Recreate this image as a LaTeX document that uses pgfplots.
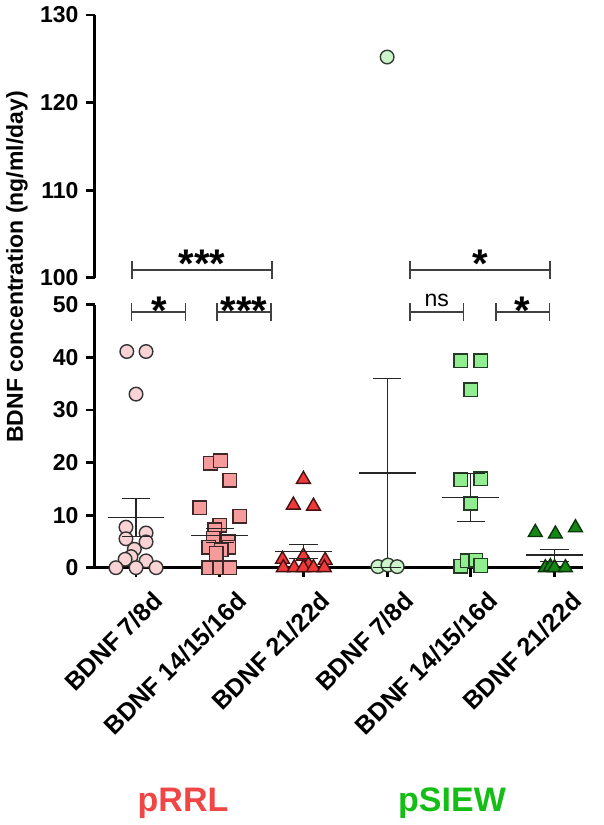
\documentclass[border=0pt]{standalone}
\usepackage{fontspec}
\setmainfont{Liberation Sans}
\usepackage{pgfplots}
\pgfplotsset{compat=1.18}

\definecolor{pinkA}{RGB}{250,212,212}
\definecolor{pinkB}{RGB}{245,155,155}
\definecolor{redC}{RGB}{238,58,58}
\definecolor{greenA}{RGB}{204,245,204}
\definecolor{greenB}{RGB}{144,238,144}
\definecolor{greenC}{RGB}{20,135,20}
\definecolor{labred}{RGB}{240,70,70}
\definecolor{labgreen}{RGB}{20,190,20}

\pgfplotsset{
  brk/.style={
    scale only axis, width=244.25pt,
    xmin=-0.496, xmax=5.34, clip=false,
    axis line style={line width=1.4pt},
    tick style={line width=1.4pt, black},
    tick align=outside, major tick length=4.5pt,
    yticklabel style={font=\fontsize{11.5}{12}\selectfont\bfseries},
    /pgf/number format/assume math mode=true,
  },
  pts/.style={only marks, mark size=3.4pt, line width=0.7pt},
}
\tikzset{sigline/.style={line width=0.6pt, black!75},
  ebar/.style={line width=0.6pt, black!85},
  star/.style={anchor=base, font=\fontsize{20}{20}\selectfont\bfseries}}

\newcommand{\sigbar}[3]{%
  \draw[sigline] (axis cs:#1,#3) -- (axis cs:#2,#3);
  \draw[sigline] (axis cs:#1,#3) ++(0pt,-4.5pt) -- ++(0pt,9pt);
  \draw[sigline] (axis cs:#2,#3) ++(0pt,-4.5pt) -- ++(0pt,9pt);
}

\begin{document}
\begin{tikzpicture}[x=1pt,y=1pt]
\path[use as bounding box] (0,0) rectangle (302,412.5);

% upper segment of the broken axis
\begin{axis}[brk, at={(47.25pt,273.65pt)}, anchor=south west,
  height=131.35pt, ymin=100, ymax=130,
  axis y line*=left, axis x line=none,
  ytick={100,110,120,130}]
  \addplot[pts, mark=*, draw=greenA!25!black, fill=greenA] coordinates {(3.0,125.2)};
  \sigbar{-0.048}{1.625}{100.88}
  \sigbar{3.274}{4.946}{100.88}
  \node[star] at (axis cs:0.789,100.0) {***};
  \node[star] at (axis cs:4.110,100.0) {*};
\end{axis}

% lower segment
\begin{axis}[brk, at={(47.25pt,128.65pt)}, anchor=south west,
  height=131.5pt, ymin=0, ymax=50,
  axis x line*=bottom, axis y line*=left,
  ytick={0,10,...,50}, xtick={0,...,5},
  xticklabels={BDNF 7/8d, BDNF 14/15/16d, BDNF 21/22d, BDNF 7/8d, BDNF 14/15/16d, BDNF 21/22d},
  xticklabel style={rotate=45, anchor=north east, inner sep=1pt, yshift=-9pt, xshift=2pt,
    font=\fontsize{12.5}{13}\selectfont\bfseries}]

  % pRRL 7/8d
  \addplot[pts, mark=*, draw=black!80, fill=pinkA] coordinates {
    (-0.11,41.1) (0.12,41.1) (0,33) (-0.12,7.7) (0.12,6.6) (-0.12,5.5)
    (0.12,4.9) (-0.02,3.5) (-0.06,2.1) (-0.13,1.6) (0.12,1.3)
    (-0.24,0) (0,0) (0.24,0)};
  % pRRL 14/15/16d
  \addplot[pts, mark=square*, draw=pinkB!25!black, fill=pinkB] coordinates {
    (0.89,19.9) (1.01,20.3) (1.12,16.6) (0.76,11.4) (1.24,9.8) (1.0,8.1)
    (0.94,7.2) (0.92,5.6) (1.10,4.9) (0.87,3.9) (1.11,3.9) (1.02,3.4)
    (0.96,2.7) (0.87,0) (1.0,0) (1.12,0)};
  % pRRL 21/22d
  \addplot[pts, mark=triangle*, mark size=4pt, draw=redC!30!black, fill=redC] coordinates {
    (2.0,16.8) (1.88,11.9) (2.12,11.7) (1.75,1.6) (2.26,1.4) (2.0,2.2)
    (2.06,0.6) (1.76,0) (1.89,0) (2.0,0) (2.12,0) (2.25,0)};
  % pSIEW 7/8d
  \addplot[pts, mark=*, draw=greenA!25!black, fill=greenA] coordinates {
    (2.89,0.2) (3.01,0.5) (3.12,0.2)};
  % pSIEW 14/15/16d
  \addplot[pts, mark=square*, draw=greenB!25!black, fill=greenB] coordinates {
    (3.88,39.3) (4.12,39.3) (4.0,33.8) (3.88,16.7) (4.12,16.9) (4.0,12.3)
    (3.88,0.3) (3.96,1.3) (4.06,1.4) (4.12,0.4)};
  % pSIEW 21/22d
  \addplot[pts, mark=triangle*, mark size=4pt, draw=greenC!40!black, fill=greenC] coordinates {
    (4.77,6.7) (5.01,6.4) (5.25,7.6) (4.89,0) (4.95,0.2) (5.0,0) (5.13,0)};

  % SEM whiskers, caps and means
  \addplot[ebar, unbounded coords=jump] coordinates {
    (0,5.9) (0,13.1) (0,nan) (1,4.8) (1,7.4) (1,nan) (2,1.8) (2,4.4) (2,nan)
    (3,0) (3,36.0) (3,nan) (4,8.8) (4,17.9) (4,nan) (5,1.2) (5,3.5)};
  \addplot[only marks, mark=-, mark size=7.1pt, mark options={ebar}] coordinates {
    (0,13.1) (0,5.9) (1,7.4) (1,4.8) (2,4.4) (2,1.8)
    (3,36.0) (3,0) (4,17.9) (4,8.8) (5,3.5) (5,1.2)};
  \addplot[only marks, mark=-, mark size=14.2pt, mark options={ebar}] coordinates {
    (0,9.5) (1,6.1) (2,3.1) (3,18.0) (4,13.4) (5,2.4)};

  \sigbar{-0.051}{0.594}{48.6}
  \sigbar{0.968}{1.613}{48.6}
  \sigbar{3.274}{3.913}{48.6}
  \sigbar{4.301}{4.938}{48.6}
  \node[star] at (axis cs:0.272,46.3) {*};
  \node[star] at (axis cs:1.290,46.3) {***};
  \node[anchor=base, font=\fontsize{11.5}{12}\selectfont] at (axis cs:3.594,49.6) {ns};
  \node[star] at (axis cs:4.620,46.3) {*};
\end{axis}

\node[rotate=90, font=\fontsize{11.5}{13}\selectfont\bfseries] at (8.5,279) {BDNF concentration (ng/ml/day)};
\node[anchor=base, text=labred, font=\fontsize{17}{18}\selectfont\bfseries] at (91.5,6.75) {pRRL};
\node[anchor=base, text=labgreen, font=\fontsize{17}{18}\selectfont\bfseries] at (226,6.75) {pSIEW};
\end{tikzpicture}
\end{document}
